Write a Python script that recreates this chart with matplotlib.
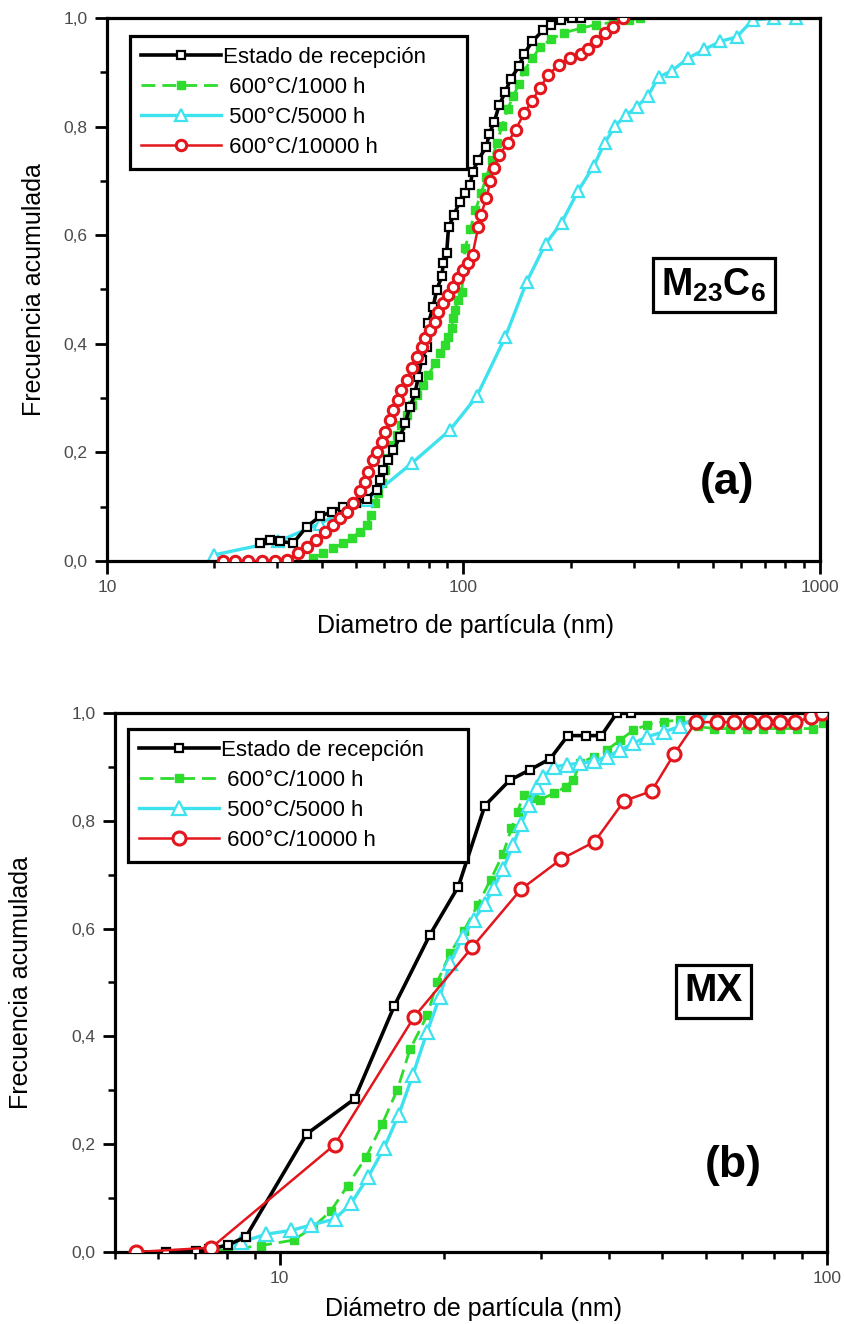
import matplotlib.pyplot as plt
from matplotlib import font_manager
from matplotlib.ticker import LogLocator, MultipleLocator, NullFormatter, FixedLocator

# ---- data (cumulative frequency vs particle diameter, nm) ----
# (a) M23C6
a_rec_x = [26.9, 28.6, 30.5, 33.3, 36.3, 39.6, 42.7, 46.0, 50.1, 53.5, 57.1, 58.3, 59.6,
           61.5, 63.6, 66.4, 68.6, 70.8, 73.1, 74.7, 76.3, 78.9, 79.7, 82.2, 84.1, 86.9,
           87.8, 89.7, 90.8, 94.1, 97.5, 101, 104.5, 106, 110, 116, 118, 122, 126, 131,
           135.5, 143, 148, 156, 167, 176, 188, 202, 213]
a_rec_y = [0.033, 0.039, 0.036, 0.033, 0.063, 0.082, 0.091, 0.100, 0.106, 0.115, 0.131,
           0.149, 0.168, 0.186, 0.204, 0.229, 0.254, 0.284, 0.309, 0.339, 0.370, 0.395,
           0.438, 0.468, 0.499, 0.524, 0.548, 0.567, 0.615, 0.638, 0.661, 0.677, 0.693,
           0.716, 0.739, 0.763, 0.786, 0.809, 0.840, 0.864, 0.887, 0.911, 0.934, 0.957,
           0.977, 0.988, 0.996, 1.0, 1.0]

a_1000_x = [37.9, 40.4, 43.1, 46.0, 48.6, 51.2, 53.5, 55.2, 56.5, 57.7, 59.0, 60.3, 61.5,
            63.6, 65.0, 67.0, 69.3, 71.6, 73.9, 77.1, 79.7, 83.2, 85.9, 88.7, 90.6, 92.6,
            93.6, 94.6, 96.6, 98.9, 101, 104.5, 108, 112, 116, 120, 124, 128.5, 133, 138,
            143, 148, 156, 164, 176, 192, 213, 236, 262, 291, 312]
a_1000_y = [0.005, 0.014, 0.023, 0.033, 0.042, 0.054, 0.066, 0.085, 0.106, 0.125, 0.143,
            0.168, 0.189, 0.214, 0.232, 0.250, 0.269, 0.287, 0.306, 0.324, 0.343, 0.364,
            0.383, 0.398, 0.413, 0.429, 0.447, 0.462, 0.481, 0.496, 0.576, 0.611, 0.646,
            0.677, 0.708, 0.739, 0.770, 0.802, 0.833, 0.856, 0.879, 0.903, 0.926, 0.946,
            0.961, 0.973, 0.981, 0.988, 0.992, 0.996, 1.0]

a_5000_x = [19.9, 30.2, 39.6, 53.5, 71.6, 91.6, 108.9, 130.9, 150.4, 169.9, 188.5, 209.4,
            232.2, 248.9, 266.9, 286.1, 306.7, 328.8, 352.5, 384.5, 426.6, 473.3, 525.6,
            583.4, 647.0, 744.5, 855.5]
a_5000_y = [0.011, 0.036, 0.069, 0.112, 0.180, 0.241, 0.303, 0.412, 0.514, 0.584, 0.623,
            0.681, 0.728, 0.770, 0.802, 0.821, 0.837, 0.856, 0.891, 0.903, 0.926, 0.942,
            0.957, 0.965, 0.996, 1.0, 1.0]

a_10000_x = [21.1, 22.9, 24.8, 27.2, 29.6, 32.0, 34.4, 36.3, 38.7, 40.9, 43.1, 45.0, 47.0,
             49.1, 51.2, 52.9, 54.1, 55.9, 57.1, 59.0, 60.3, 62.2, 63.6, 65.7, 67.0, 69.3,
             71.6, 73.9, 76.4, 78.0, 80.5, 83.2, 85.0, 87.7, 90.6, 93.6, 96.6, 100, 103,
             106, 110, 112, 116, 119, 122, 126, 133, 140, 148, 156, 164, 173, 185, 199,
             213, 224, 236, 249, 262, 281]
a_10000_y = [0.0, 0.0, 0.0, 0.0, 0.0, 0.002, 0.014, 0.026, 0.039, 0.054, 0.066, 0.079,
             0.091, 0.106, 0.128, 0.146, 0.164, 0.186, 0.201, 0.220, 0.238, 0.260, 0.278,
             0.296, 0.315, 0.333, 0.355, 0.376, 0.395, 0.410, 0.425, 0.441, 0.459, 0.475,
             0.490, 0.505, 0.521, 0.536, 0.548, 0.564, 0.615, 0.638, 0.669, 0.700, 0.724,
             0.747, 0.770, 0.794, 0.825, 0.848, 0.872, 0.895, 0.914, 0.926, 0.934, 0.942,
             0.957, 0.973, 0.984, 1.0]

# (b) MX
b_rec_x = [5.48, 6.19, 7.03, 7.43, 8.04, 8.67, 11.2, 13.7, 16.2, 18.8, 21.2, 23.7, 26.3,
           28.7, 31.2, 33.6, 36.2, 38.7, 41.3, 43.9]
b_rec_y = [0.0, 0.0, 0.002, 0.005, 0.013, 0.028, 0.219, 0.284, 0.457, 0.588, 0.678, 0.828,
           0.875, 0.895, 0.915, 0.958, 0.958, 0.958, 1.0, 1.0]

b_1000_x = [7.03, 8.06, 9.24, 10.6, 11.5, 12.4, 13.3, 14.4, 15.4, 16.4, 17.3, 18.6, 19.4,
            20.5, 21.7, 23.0, 24.3, 25.6, 26.5, 27.2, 27.9, 29.1, 29.9, 31.7, 33.3, 34.4,
            35.4, 37.5, 39.6, 41.9, 44.3, 46.9, 50.3, 53.9, 58.0, 62.1, 66.5, 71.3, 76.5,
            82.0, 88.0, 94.4, 98.4]
b_1000_y = [0.0, 0.004, 0.012, 0.022, 0.046, 0.076, 0.123, 0.177, 0.238, 0.301, 0.376,
            0.439, 0.501, 0.555, 0.596, 0.644, 0.691, 0.739, 0.786, 0.817, 0.848, 0.842,
            0.839, 0.851, 0.863, 0.876, 0.907, 0.919, 0.931, 0.950, 0.968, 0.978, 0.984,
            0.987, 0.975, 0.971, 0.971, 0.971, 0.971, 0.971, 0.971, 0.971, 0.981]

b_5000_x = [7.53, 8.5, 9.43, 10.5, 11.4, 12.6, 13.5, 14.5, 15.5, 16.5, 17.5, 18.6, 19.6,
            20.5, 21.6, 22.6, 23.7, 24.6, 25.6, 26.7, 27.6, 28.6, 29.5, 30.3, 31.7, 33.5,
            35.4, 37.5, 39.6, 41.9, 44.3, 46.9, 50.3, 53.9, 57.8, 61.1]
b_5000_y = [0.006, 0.018, 0.033, 0.040, 0.050, 0.061, 0.090, 0.139, 0.192, 0.255, 0.328,
            0.409, 0.473, 0.537, 0.584, 0.616, 0.645, 0.675, 0.711, 0.755, 0.794, 0.830,
            0.863, 0.882, 0.900, 0.904, 0.907, 0.910, 0.919, 0.931, 0.944, 0.956, 0.965,
            0.975, 0.993, 0.996]

b_10000_x = [5.47, 7.5, 12.6, 17.6, 22.5, 27.6, 32.7, 37.6, 42.6, 47.8, 52.5, 57.6, 62.9,
             67.6, 72.3, 77.2, 82.0, 87.5, 93.5, 98.0]
b_10000_y = [0.0, 0.008, 0.199, 0.436, 0.566, 0.673, 0.729, 0.761, 0.837, 0.855, 0.923,
             0.983, 0.983, 0.983, 0.983, 0.983, 0.983, 0.983, 0.992, 1.0]

labels = ['Estado de recepción', ' 600°C/1000 h', ' 500°C/5000 h', ' 600°C/10000 h']
y_ticks = [0.0, 0.2, 0.4, 0.6, 0.8, 1.0]
y_ticklabels = ['0,0', '0,2', '0,4', '0,6', '0,8', '1,0']

GREEN = '#2edc2e'
CYAN = '#3ee2ef'
RED = '#e2161c'

names = {f.name for f in font_manager.fontManager.ttflist}
narrow = 'Liberation Sans Narrow' if 'Liberation Sans Narrow' in names else 'Liberation Sans'
plt.rcParams['font.family'] = ['Liberation Sans', 'DejaVu Sans']
plt.rcParams['mathtext.fontset'] = 'custom'
plt.rcParams['mathtext.rm'] = narrow
plt.rcParams['mathtext.bf'] = narrow + ':bold'


def draw(ax, data, big):
    (rx, ry), (gx, gy), (cx, cy), (ox, oy) = data
    ms = 1.0 if not big else 1.25
    ax.plot(rx, ry, '-', color='black', lw=2.6, marker='s', ms=5.5, mfc='white',
            mec='black', mew=1.6, label=labels[0], zorder=3)
    ax.plot(gx, gy, '--', color=GREEN, lw=2.0, dashes=(5, 2.5), marker='s', ms=6,
            mfc=GREEN, mec=GREEN, label=labels[1], zorder=2)
    ax.plot(cx, cy, '-', color=CYAN, lw=2.4, marker='^', ms=8.5 * ms, mfc='white',
            mec=CYAN, mew=1.6, label=labels[2], zorder=2)
    ax.plot(ox, oy, '-', color=RED, lw=1.8, marker='o', ms=7.5 * ms, mfc='white',
            mec=RED, mew=2.2, label=labels[3], zorder=4)


def style(ax, xlim, xticks, xticklabels, xlabel, ylab_x, xlab_y, leg_box):
    ax.set_xscale('log')
    ax.set_xlim(*xlim)
    ax.set_ylim(0, 1.0)
    ax.xaxis.set_major_locator(FixedLocator(xticks))
    ax.xaxis.set_minor_locator(LogLocator(base=10, subs=range(2, 10)))
    ax.xaxis.set_minor_formatter(NullFormatter())
    ax.set_xticks(xticks)
    ax.set_xticklabels(xticklabels)
    ax.set_yticks(y_ticks)
    ax.set_yticklabels(y_ticklabels)
    ax.yaxis.set_minor_locator(MultipleLocator(0.1))
    ax.tick_params(which='major', direction='out', length=9, width=2.0,
                   labelsize=12.5, labelcolor='#4a4a4a', pad=5)
    ax.tick_params(which='minor', direction='out', length=5, width=1.8)
    for t in ax.get_xticklabels() + ax.get_yticklabels():
        t.set_family(narrow)
    for s in ax.spines.values():
        s.set_linewidth(2.3)
    ax.set_xlabel(xlabel, fontsize=18)
    ax.set_ylabel('Frecuencia acumulada', fontsize=18)
    ax.xaxis.set_label_coords(0.503, xlab_y)
    ax.yaxis.set_label_coords(ylab_x, 0.5)
    leg = ax.legend(loc='upper left', bbox_to_anchor=leg_box, mode='expand',
                    fontsize=16, frameon=True, fancybox=False, edgecolor='black',
                    framealpha=1, handlelength=3.6, handletextpad=0.1,
                    borderpad=0.5, labelspacing=0.4, borderaxespad=0, numpoints=1)
    leg.get_frame().set_linewidth(2.3)


fig = plt.figure(figsize=(8.45, 13.24), dpi=100)
ax1 = fig.add_axes([0.1266, 0.5763, 0.8438, 0.4101])
ax2 = fig.add_axes([0.1361, 0.0544, 0.8426, 0.4071])

draw(ax1, [(a_rec_x, a_rec_y), (a_1000_x, a_1000_y), (a_5000_x, a_5000_y),
           (a_10000_x, a_10000_y)], False)
style(ax1, (10, 1000), [10, 100, 1000], ['10', '100', '1000'],
      'Diametro de partícula (nm)', -0.085, -0.097, (0.032, 0.711, 0.473, 0.256))

draw(ax2, [(b_rec_x, b_rec_y), (b_1000_x, b_1000_y), (b_5000_x, b_5000_y),
           (b_10000_x, b_10000_y)], True)
style(ax2, (5, 100), [10, 100], ['10', '100'],
      'Diámetro de partícula (nm)', -0.115, -0.083, (0.018, 0.718, 0.478, 0.252))

box = dict(boxstyle='square,pad=0.22', fc='white', ec='black', lw=2.3)
ax1.text(0.851, 0.508, r'$\mathbf{M_{23}C_{6}}$', transform=ax1.transAxes,
         fontsize=27, ha='center', va='center', bbox=box)
ax1.text(0.87, 0.145, '(a)', transform=ax1.transAxes, fontsize=32,
         fontweight='bold', ha='center', va='center', family=narrow)
ax2.text(0.841, 0.484, 'MX', transform=ax2.transAxes, fontsize=28,
         fontweight='bold', ha='center', va='center', family=narrow, bbox=box)
ax2.text(0.868, 0.161, '(b)', transform=ax2.transAxes, fontsize=32,
         fontweight='bold', ha='center', va='center', family=narrow)

fig.savefig('out.png', dpi=100)
